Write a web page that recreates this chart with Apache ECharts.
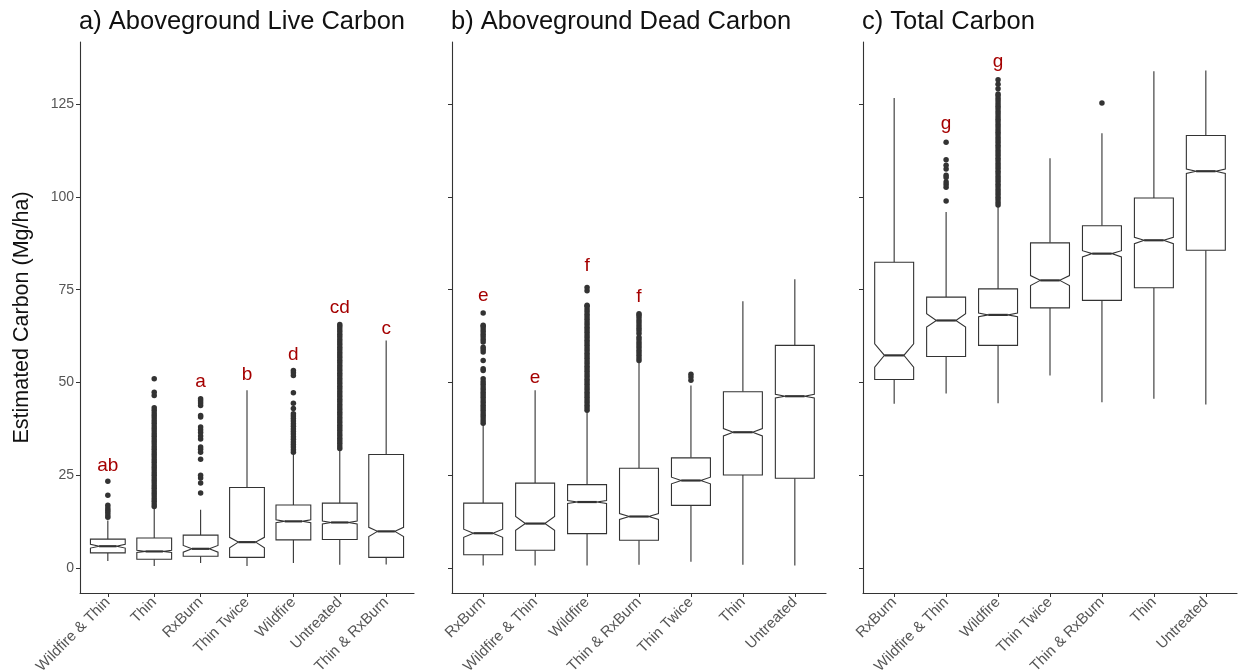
<!DOCTYPE html>
<html>
<head>
<meta charset="utf-8">
<script src="https://cdn.jsdelivr.net/npm/echarts@6/dist/echarts.min.js"></script>
<style>html,body{margin:0;padding:0;background:#fff}#c{width:1238px;height:670px}</style>
</head>
<body>
<div id="c"></div>
<script>
// ---------- DATA ----------
const yTicks = [0, 25, 50, 75, 100, 125];

// Panel a) Aboveground Live Carbon
const catsA = ['Wildfire & Thin', 'Thin', 'RxBurn', 'Thin Twice', 'Wildfire', 'Untreated', 'Thin & RxBurn'];
// [lower whisker, Q1, median, Q3, upper whisker]
const statsA = [
  [1.9, 4.1, 5.9, 7.8, 12.8],
  [0.6, 2.4, 4.5, 8.1, 16.4],
  [1.4, 3.2, 5.2, 8.9, 15.7],
  [0.6, 2.9, 7.0, 21.7, 47.9],
  [1.4, 7.6, 12.6, 17.0, 30.8],
  [0.9, 7.7, 12.3, 17.5, 31.7],
  [1.0, 2.9, 9.9, 30.6, 61.3]
];
// [notch low, notch high]
const notchA = [[5.4, 6.4], [4.2, 4.8], [4.3, 6.1], [5.5, 8.3], [12.2, 13.0], [11.9, 12.7], [8.5, 11.0]];
const outA = [
  [13.7, 14.3, 15.0, 15.6, 16.2, 16.9, 19.6, 23.4],
  [16.6, 17.3, 18.0, 18.7, 19.4, 20.1, 20.8, 21.5, 22.2, 22.9, 23.6, 24.3, 25.0, 25.7, 26.4, 27.1, 27.8, 28.5, 29.2, 29.9, 30.6, 31.3, 32.0, 32.7, 33.4, 34.1, 34.8, 35.5, 36.2, 36.9, 37.6, 38.3, 39.0, 39.7, 40.4, 41.1, 41.8, 42.5, 43.2, 46.5, 47.4, 51.0],
  [20.2, 22.9, 24.3, 25.0, 29.3, 31.2, 32.0, 32.6, 34.8, 35.6, 36.5, 37.3, 38.0, 40.7, 41.1, 43.8, 44.5, 45.1, 45.6],
  [],
  [31.2, 31.9, 32.6, 33.3, 34.0, 34.7, 35.4, 36.1, 36.8, 37.5, 38.2, 38.9, 39.6, 40.3, 41.0, 41.6, 43.0, 44.4, 47.2, 51.9, 52.6, 53.2],
  [32.2, 32.9, 33.6, 34.3, 35.0, 35.7, 36.4, 37.1, 37.8, 38.5, 39.2, 39.9, 40.6, 41.3, 42.0, 42.7, 43.4, 44.1, 44.8, 45.5, 46.2, 46.9, 47.6, 48.3, 49.0, 49.7, 50.4, 51.1, 51.8, 52.5, 53.2, 53.9, 54.6, 55.3, 56.0, 56.7, 57.4, 58.1, 58.8, 59.5, 60.2, 60.9, 61.6, 62.3, 63.0, 63.7, 64.4, 65.1, 65.6],
  []
];
const letA = ['ab', '', 'a', 'b', 'd', 'cd', 'c'];
const letYA = [27.7, null, 50.1, 52.1, 57.5, 70.1, 64.5];

// Panel b) Aboveground Dead Carbon
const catsB = ['RxBurn', 'Wildfire & Thin', 'Wildfire', 'Thin & RxBurn', 'Thin Twice', 'Thin', 'Untreated'];
const statsB = [
  [0.7, 3.6, 9.4, 17.5, 38.6],
  [0.7, 4.8, 12.0, 22.9, 47.9],
  [0.7, 9.3, 17.8, 22.5, 42.0],
  [0.9, 7.5, 13.9, 26.9, 55.8],
  [1.7, 16.9, 23.6, 29.7, 49.2],
  [0.9, 25.1, 36.6, 47.5, 71.9],
  [0.7, 24.2, 46.3, 60.0, 77.8]
];
const notchB = [[8.3, 10.5], [10.2, 13.9], [17.4, 18.2], [13.1, 14.7], [22.7, 24.5], [35.6, 37.6], [45.8, 46.8]];
const outB = [
  [39.0, 39.7, 40.4, 41.1, 41.8, 42.5, 43.2, 43.9, 44.6, 45.3, 46.0, 46.7, 47.4, 48.1, 48.8, 49.5, 50.2, 51.0, 53.2, 53.7, 55.9, 58.2, 58.9, 59.5, 60.9, 61.6, 62.3, 63.0, 63.7, 64.4, 65.1, 65.4, 68.7],
  [],
  [42.5, 43.2, 43.9, 44.6, 45.3, 46.0, 46.7, 47.4, 48.1, 48.8, 49.5, 50.2, 50.9, 51.6, 52.3, 53.0, 53.7, 54.4, 55.1, 55.8, 56.5, 57.2, 57.9, 58.6, 59.3, 60.0, 60.7, 61.4, 62.1, 62.8, 63.5, 64.2, 64.9, 65.6, 66.3, 67.0, 67.7, 68.4, 69.1, 69.8, 70.5, 70.8, 74.7, 75.6],
  [55.9, 56.6, 57.3, 58.0, 58.7, 59.4, 60.1, 60.8, 61.5, 62.2, 63.2, 63.9, 64.6, 65.3, 66.0, 66.7, 67.4, 68.1, 68.5],
  [50.6, 51.5, 52.2],
  [],
  []
];
const letB = ['e', 'e', 'f', 'f', '', '', ''];
const letYB = [73.3, 51.4, 81.5, 73.2, null, null, null];

// Panel c) Total Carbon
const catsC = ['RxBurn', 'Wildfire & Thin', 'Wildfire', 'Thin Twice', 'Thin & RxBurn', 'Thin', 'Untreated'];
const statsC = [
  [44.3, 50.8, 57.3, 82.4, 126.6],
  [47.0, 57.0, 66.7, 73.0, 95.9],
  [44.4, 60.0, 68.2, 75.2, 97.5],
  [51.9, 70.1, 77.5, 87.6, 110.4],
  [44.7, 72.1, 84.7, 92.2, 117.1],
  [45.6, 75.5, 88.3, 99.7, 133.8],
  [44.1, 85.6, 106.9, 116.5, 134.0]
];
const notchC = [[54.1, 60.4], [64.9, 68.5], [67.7, 68.7], [76.1, 78.8], [83.8, 85.5], [87.4, 89.1], [106.3, 107.5]];
const outC = [
  [],
  [98.9, 102.6, 103.3, 104.0, 105.2, 105.8, 107.5, 108.5, 110.0, 114.7],
  [97.8, 98.5, 99.2, 99.9, 100.6, 101.3, 102.0, 102.7, 103.4, 104.1, 104.8, 105.5, 106.2, 106.9, 107.6, 108.3, 109.0, 109.7, 110.4, 111.1, 111.8, 112.5, 113.2, 113.9, 114.6, 115.3, 116.0, 116.7, 117.4, 118.1, 118.8, 119.5, 120.2, 120.9, 121.6, 122.3, 123.0, 123.7, 124.4, 125.1, 125.8, 126.5, 127.2, 127.7, 129.1, 130.3, 131.5],
  [],
  [125.3],
  [],
  []
];
const letC = ['', 'g', 'g', '', '', '', ''];
const letYC = [null, 119.6, 136.3, null, null, null, null];

const panelTitles = ['a) Aboveground Live Carbon', 'b) Aboveground Dead Carbon', 'c) Total Carbon'];

// ---------- CHART ----------
const FONT = '"Liberation Sans", Arial, sans-serif';
const INK = '#333333';
const RED = '#a50000';
const Y_MIN = -6.7, Y_MAX = 141.7;

const panels = [
  {cats: catsA, stats: statsA, notch: notchA, out: outA, let: letA, letY: letYA, grid: {left: 80, top: 42, width: 334, height: 551}},
  {cats: catsB, stats: statsB, notch: notchB, out: outB, let: letB, letY: letYB, grid: {left: 452, top: 42, width: 374, height: 551}},
  {cats: catsC, stats: statsC, notch: notchC, out: outC, let: letC, letY: letYC, grid: {left: 863, top: 42, width: 374, height: 551}}
];

function renderBox(params, api) {
  const x = api.value(0);
  const lo = api.value(1), q1 = api.value(2), med = api.value(3), q3 = api.value(4), hi = api.value(5);
  const nlo = api.value(6), nhi = api.value(7);
  const cx = api.coord([x, med])[0];
  const Y = v => api.coord([x, v])[1];
  const hw = api.size([1, 0])[0] * 0.375;
  const ins = hw * 0.5;
  const xl = cx - hw, xr = cx + hw;
  const st = {stroke: INK, lineWidth: 1.1};
  return {
    type: 'group',
    children: [
      {type: 'line', shape: {x1: cx, y1: Y(hi), x2: cx, y2: Y(q3)}, style: st},
      {type: 'line', shape: {x1: cx, y1: Y(q1), x2: cx, y2: Y(lo)}, style: st},
      {type: 'polygon', shape: {points: [
        [xl, Y(q3)], [xr, Y(q3)], [xr, Y(nhi)], [xr - ins, Y(med)], [xr, Y(nlo)], [xr, Y(q1)],
        [xl, Y(q1)], [xl, Y(nlo)], [xl + ins, Y(med)], [xl, Y(nhi)]
      ]}, style: {fill: '#fff', stroke: INK, lineWidth: 1.1}},
      {type: 'line', shape: {x1: xl + ins, y1: Y(med), x2: xr - ins, y2: Y(med)}, style: {stroke: INK, lineWidth: 2.2}}
    ]
  };
}

const option = {
  backgroundColor: '#fff',
  animation: false,
  title: panelTitles.map((t, i) => ({
    text: t, left: panels[i].grid.left - 1, top: 9, padding: 0,
    textStyle: {fontFamily: FONT, fontSize: 25.5, fontWeight: 'normal', color: '#111'}
  })),
  grid: panels.map(p => Object.assign({containLabel: false, outerBoundsMode: 'none'}, p.grid)),
  xAxis: panels.map((p, i) => ({
    type: 'value', gridIndex: i, min: -0.6, max: 6.6,
    axisLine: {show: true, onZero: false, lineStyle: {color: INK, width: 1.1}},
    axisTick: {show: true, customValues: [0, 1, 2, 3, 4, 5, 6], length: 4, lineStyle: {color: INK}},
    axisLabel: {
      customValues: [0, 1, 2, 3, 4, 5, 6], rotate: 45, margin: 7,
      fontFamily: FONT, fontSize: 15, color: '#555',
      formatter: v => p.cats[Math.round(v)]
    },
    splitLine: {show: false}
  })),
  yAxis: panels.map((p, i) => ({
    type: 'value', gridIndex: i, min: Y_MIN, max: Y_MAX,
    name: i === 0 ? 'Estimated Carbon (Mg/ha)' : '',
    nameLocation: 'middle', nameGap: 47,
    nameTextStyle: {fontFamily: FONT, fontSize: 21.5, color: '#111'},
    axisLine: {show: true, onZero: false, lineStyle: {color: INK, width: 1.1}},
    axisTick: {show: true, customValues: yTicks, length: 4, lineStyle: {color: INK}},
    axisLabel: {show: i === 0, customValues: yTicks, fontFamily: FONT, fontSize: 14, color: '#555', margin: 6},
    splitLine: {show: false}
  })),
  series: []
};

panels.forEach((p, i) => {
  option.series.push({
    type: 'custom', xAxisIndex: i, yAxisIndex: i, clip: false,
    renderItem: renderBox,
    encode: {x: 0, y: [1, 2, 3, 4, 5]},
    data: p.stats.map((s, k) => [k, s[0], s[1], s[2], s[3], s[4], p.notch[k][0], p.notch[k][1]]),
    z: 2
  });
  const pts = [];
  p.out.forEach((arr, k) => arr.forEach(v => pts.push([k, v])));
  option.series.push({
    type: 'scatter', xAxisIndex: i, yAxisIndex: i, symbolSize: 5.5,
    itemStyle: {color: INK, opacity: 1}, data: pts, z: 3, silent: true
  });
  const letData = [];
  const letText = [];
  p.let.forEach((t, k) => { if (t) { letData.push([k, p.letY[k]]); letText.push(t); } });
  option.series.push({
    type: 'custom', xAxisIndex: i, yAxisIndex: i, clip: false, z: 4,
    encode: {x: 0, y: 1},
    data: letData,
    renderItem: (params, api) => {
      const pt = api.coord([api.value(0), api.value(1)]);
      return {type: 'text', x: pt[0], y: pt[1], style: {
        text: letText[params.dataIndex], fill: RED, font: '19px ' + FONT,
        textAlign: 'center', textVerticalAlign: 'middle'
      }};
    }
  });
});

const chart = echarts.init(document.getElementById('c'), null, {renderer: 'canvas'});
chart.setOption(option);
</script>
</body>
</html>
